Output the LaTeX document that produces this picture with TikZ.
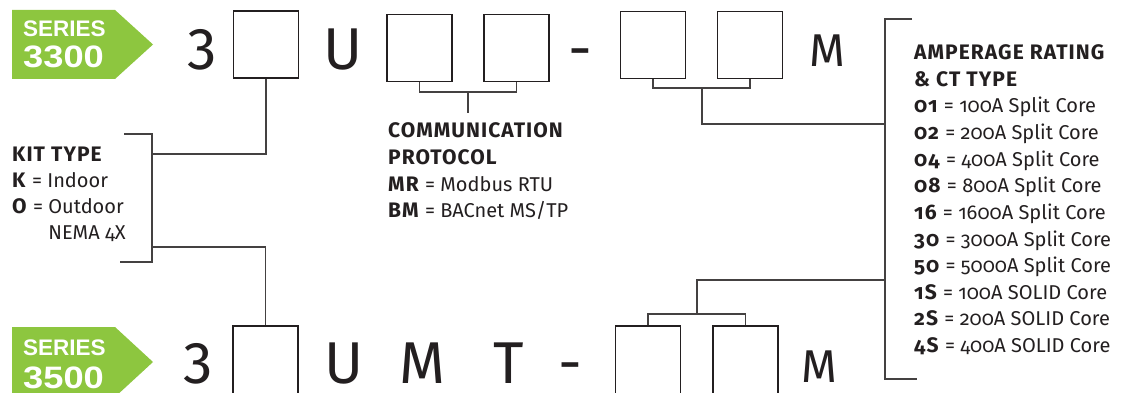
\documentclass[tikz,border=0pt]{standalone}
\usepackage{fontspec}
\setmainfont{Fira Sans}[Numbers=OldStyle, BoldFeatures={Scale=1.05, LetterSpace=5}]
\newfontfamily\bigfont{Fira Sans}[Numbers=Lining]
\newfontfamily\badgefont{Liberation Sans}
\definecolor{seriesgreen}{RGB}{141,198,63}
\definecolor{ink}{RGB}{35,31,32}

\begin{document}
\begin{tikzpicture}[
    x=1pt, y=-1pt,
    slot/.style={draw=ink,line width=1.2pt,minimum width=65pt,minimum height=67pt,inner sep=0pt},
    glyph/.style={anchor=base,inner sep=0pt,text=ink,font=\bigfont\fontsize{59}{59}\selectfont},
    smallglyph/.style={glyph,font=\bigfont\fontsize{46}{46}\selectfont},
    wire/.style={draw=ink!85,line width=1.3pt},
    legend/.style={anchor=base west,inner sep=0pt,text=ink,font=\fontsize{20}{24}\selectfont},
    badge/.style={fill=seriesgreen,draw=none},
    badgetext/.style={anchor=base west,inner sep=0pt,text=white,font=\badgefont\bfseries\fontsize{22.5}{22.5}\selectfont},
    badgenum/.style={badgetext,font=\badgefont\bfseries\fontsize{31}{31}\selectfont}
]
    \useasboundingbox (0,0) rectangle (1121,393);
    \pgfmathsetmacro{\rowgap}{26.6}

    % Series 3300 part number
    \fill[badge] (12,10) -- (115,10) -- (153,44.5) -- (115,79) -- (12,79) -- cycle;
    \node[badgetext] (seriesA) at (23,37) {SERIES};
    \node[badgenum] (numA) at (23,68) {\scalebox{1.17}[1]{3300}};

    \node[glyph] (topThree) at (202,70) {3};
    \node[slot] (kit) at (266,44.5) {};
    \node[glyph] (topU) at (343.5,70) {U};
    \node[slot] (com1) at (419.5,48) {};
    \node[slot] (com2) at (516.5,48) {};
    \node[glyph] (topDash) at (580.5,70) {-};
    \node[slot] (amp1) at (653,45) {};
    \node[slot] (amp2) at (750,45) {};
    \node[smallglyph] (topM) at (827.5,67) {M};

    %%%%%%%%%%%%%%%%%%%%%%%%%%%%%%%%%%%%%%%%%%%%%%%%%%%%%%%%%%%%%%%%%%%%%%%%%%%%%%%%%%%%

    % Series 3500 part number
    \fill[badge] (12,327) -- (115,327) -- (153,362) -- (115,397) -- (12,397) -- cycle;
    \node[badgetext] (seriesB) at (23,355) {SERIES};
    \node[badgenum] (numB) at (23,388) {\scalebox{1.17}[1]{3500}};

    \node[glyph] (botThree) at (198,383) {3};
    \node[slot,minimum height=68pt] (kitb) at (265.5,360) {};
    \node[glyph] (botU) at (344,383) {U};
    \node[glyph] (botM) at (422.5,383) {M};
    \node[glyph] (botT) at (508.5,383) {T};
    \node[glyph] (botDash) at (570,383) {-};
    \node[slot,minimum height=68pt] (ampb1) at (648,360) {};
    \node[slot,minimum height=68pt] (ampb2) at (745.5,360) {};
    \node[smallglyph] (botM2) at (819,382) {M};

    %%%%%%%%%%%%%%%%%%%%%%%%%%%%%%%%%%%%%%%%%%%%%%%%%%%%%%%%%%%%%%%%%%%%%%%%%%%%%%%%%%%%

    % Kit type
    \coordinate (kitT) at (124,134);
    \coordinate (kitB) at (120,262);
    \coordinate (kitJa) at (152,154);
    \coordinate (kitJb) at (152,247);
    \draw[wire] (kitT) -- (kitT -| kitJa) -- (kitB -| kitJa) -- (kitB);
    \draw[wire] (kitJa) -| (kit.south);
    \draw[wire] (kitJb) -| (kitb.north);

    \foreach \txt [count=\i from 0] in {{\textbf{KIT TYPE}}, {\textbf{K} = Indoor},
        {\textbf{O} = Outdoor}, {\phantom{\textbf{O} = }NEMA 4X}} {
        \pgfmathsetmacro{\ybase}{161 + \i * 26}
        \node[legend] (kitline\i) at (12,\ybase) {\txt};
    }

    % Communication protocol
    \coordinate (comJ) at (468,92);
    \coordinate (comEnd) at (468,113);
    \draw[wire] (com1.south) |- (comJ) -| (com2.south);
    \draw[wire] (comJ) -- (comEnd);

    \foreach \txt [count=\i from 0] in {{\textbf{COMMUNICATION}}, {\textbf{PROTOCOL}},
        {\textbf{MR} = Modbus RTU}, {\textbf{BM} = BACnet MS/TP}} {
        \pgfmathsetmacro{\ybase}{138 + \i * \rowgap}
        \node[legend] (comline\i) at (388,\ybase) {\txt};
    }

    % Amperage rating & CT type
    \coordinate (ampJ) at (702,88);
    \coordinate (ampR) at (885,124);
    \coordinate (ampT) at (912,19);
    \coordinate (ampB) at (917,379);
    \coordinate (ampRb) at (885,280);
    \coordinate (ampJb) at (697,314);
    \draw[wire] (amp1.south) |- (ampJ) -| (amp2.south);
    \draw[wire] (ampJ) |- (ampR);
    \draw[wire] (ampT) -- (ampT -| ampR) -- (ampB -| ampR) -- (ampB);
    \draw[wire] (ampRb) -| (ampJb);
    \draw[wire] (ampb1.north) |- (ampJb) -| (ampb2.north);

    \node[legend] (amphead1) at (914,59.8) {\textbf{AMPERAGE RATING}};
    \node[legend] (amphead2) at (914,86.4) {\textbf{\& CT TYPE}};
    \foreach \code/\rating [count=\i from 0] in {01/100A Split Core, 02/200A Split Core,
        04/400A Split Core, 08/800A Split Core, 16/1600A Split Core, 30/3000A Split Core,
        50/5000A Split Core, 1S/100A SOLID Core, 2S/200A SOLID Core, 4S/400A SOLID Core} {
        \pgfmathsetmacro{\ybase}{113 + \i * \rowgap}
        \node[legend] (amp\code) at (914,\ybase) {\textbf{\code} = \rating};
    }
\end{tikzpicture}
\end{document}
